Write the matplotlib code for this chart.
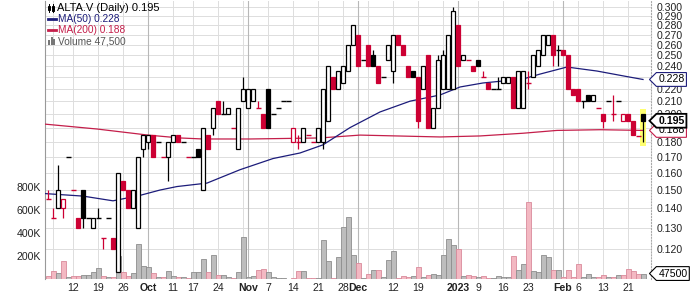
import numpy as np
import matplotlib
matplotlib.use('Agg')
import matplotlib.pyplot as plt
from matplotlib.path import Path
from matplotlib.patches import Rectangle
from matplotlib.lines import Line2D
from matplotlib.transforms import blended_transform_factory

plt.rcParams['font.family'] = ['Liberation Sans', 'DejaVu Sans']

# bar index 0 = Mon 12 Sep 2022, trading days only
first_bar = -5
prev_close = 0.15

opens = [0.145, 0.135, 0.14, 0.14, 0.17,
         0.15, 0.135, 0.15, 0.135, 0.13, 0.135, 0.125, 0.135, 0.125, 0.11,
         0.155, 0.15, 0.14, 0.13, 0.175, 0.18, 0.185, 0.18, 0.17, 0.17,
         0.18, 0.185, 0.18, 0.17, 0.17, 0.175, 0.15, 0.185, 0.19, 0.21,
         0.2, 0.2, 0.19, 0.175, 0.21, 0.205, 0.21, 0.205, 0.2, 0.22,
         0.2, 0.205, 0.21, 0.21, 0.18, 0.18, 0.18, 0.185, 0.18, 0.18,
         0.18, 0.195, 0.23, 0.22, 0.225, 0.235, 0.26, 0.27, 0.245, 0.26,
         0.25, 0.24, 0.23, 0.245, 0.235, 0.27, 0.26, 0.24, 0.235, 0.23,
         0.22, 0.25, 0.19, 0.205, 0.22, 0.22, 0.22, 0.28, 0.245, 0.245,
         0.24, 0.245, 0.23, 0.225, 0.22, 0.22, 0.225, 0.225, 0.23, 0.205,
         0.205, 0.225, 0.23, 0.24, 0.25, 0.26, 0.27, 0.255, 0.255, 0.25,
         0.22, 0.22, 0.21, 0.215, 0.21, 0.205, 0.2, 0.21, 0.2, 0.21,
         0.195, 0.2, 0.195, 0.184, 0.2]
highs = [0.15, 0.14, 0.165, 0.145, 0.17,
         0.15, 0.135, 0.15, 0.135, 0.135, 0.14, 0.125, 0.135, 0.125, 0.16,
         0.155, 0.15, 0.15, 0.17, 0.185, 0.185, 0.185, 0.18, 0.17, 0.18,
         0.185, 0.185, 0.18, 0.17, 0.17, 0.175, 0.19, 0.185, 0.205, 0.21,
         0.21, 0.205, 0.19, 0.205, 0.23, 0.22, 0.22, 0.21, 0.2, 0.22,
         0.2, 0.205, 0.21, 0.21, 0.19, 0.185, 0.19, 0.185, 0.18, 0.19,
         0.22, 0.24, 0.23, 0.235, 0.24, 0.26, 0.28, 0.27, 0.245, 0.26,
         0.255, 0.24, 0.23, 0.26, 0.27, 0.27, 0.26, 0.24, 0.235, 0.23,
         0.24, 0.25, 0.205, 0.25, 0.255, 0.27, 0.3, 0.28, 0.25, 0.245,
         0.24, 0.245, 0.235, 0.225, 0.22, 0.23, 0.23, 0.23, 0.23, 0.235,
         0.235, 0.235, 0.25, 0.255, 0.27, 0.27, 0.27, 0.26, 0.255, 0.25,
         0.22, 0.22, 0.21, 0.215, 0.215, 0.205, 0.2, 0.21, 0.215, 0.21,
         0.2, 0.2, 0.195, 0.184, 0.2]
lows = [0.145, 0.135, 0.14, 0.135, 0.17,
        0.15, 0.13, 0.13, 0.135, 0.13, 0.135, 0.12, 0.135, 0.12, 0.11,
        0.15, 0.14, 0.14, 0.13, 0.17, 0.175, 0.17, 0.18, 0.17, 0.155,
        0.18, 0.18, 0.18, 0.17, 0.17, 0.17, 0.15, 0.175, 0.185, 0.2,
        0.2, 0.2, 0.19, 0.175, 0.21, 0.205, 0.21, 0.205, 0.19, 0.19,
        0.2, 0.205, 0.21, 0.21, 0.18, 0.175, 0.18, 0.185, 0.18, 0.18,
        0.175, 0.195, 0.22, 0.22, 0.225, 0.235, 0.26, 0.24, 0.245, 0.24,
        0.24, 0.225, 0.23, 0.245, 0.225, 0.26, 0.25, 0.23, 0.23, 0.19,
        0.22, 0.19, 0.19, 0.205, 0.22, 0.22, 0.22, 0.24, 0.245, 0.245,
        0.235, 0.24, 0.23, 0.22, 0.22, 0.22, 0.225, 0.225, 0.205, 0.205,
        0.205, 0.22, 0.23, 0.24, 0.25, 0.26, 0.24, 0.24, 0.25, 0.22,
        0.215, 0.21, 0.205, 0.21, 0.21, 0.205, 0.19, 0.21, 0.195, 0.21,
        0.195, 0.195, 0.185, 0.184, 0.18]
closes = [0.145, 0.135, 0.15, 0.145, 0.17,
          0.15, 0.13, 0.135, 0.135, 0.135, 0.135, 0.125, 0.135, 0.12, 0.16,
          0.15, 0.14, 0.15, 0.17, 0.185, 0.185, 0.17, 0.18, 0.17, 0.18,
          0.185, 0.18, 0.18, 0.17, 0.17, 0.17, 0.19, 0.175, 0.205, 0.2,
          0.2, 0.205, 0.19, 0.205, 0.22, 0.22, 0.22, 0.205, 0.19, 0.19,
          0.2, 0.205, 0.21, 0.21, 0.19, 0.18, 0.19, 0.185, 0.18, 0.19,
          0.22, 0.24, 0.22, 0.235, 0.24, 0.26, 0.28, 0.24, 0.245, 0.24,
          0.24, 0.225, 0.23, 0.26, 0.27, 0.26, 0.25, 0.23, 0.23, 0.195,
          0.24, 0.19, 0.205, 0.245, 0.25, 0.27, 0.295, 0.24, 0.25, 0.245,
          0.235, 0.24, 0.23, 0.22, 0.22, 0.22, 0.23, 0.23, 0.205, 0.235,
          0.235, 0.225, 0.25, 0.255, 0.27, 0.27, 0.25, 0.255, 0.25, 0.22,
          0.215, 0.21, 0.21, 0.21, 0.215, 0.205, 0.195, 0.21, 0.2, 0.21,
          0.2, 0.195, 0.185, 0.184, 0.195]
volumes = [30, 70, 50, 157, 15,
           26, 26, 35, 35, 64, 93, 26, 15, 15, 200,
           64, 26, 50, 304, 113, 101, 50, 15, 15, 70,
           26, 15, 15, 6, 64, 64, 174, 64, 209, 35,
           35, 15, 6, 64, 362, 15, 26, 78, 87, 64,
           15, 6, 6, 2, 6, 70, 70, 6, 6, 6,
           339, 157, 6, 188, 449, 536, 209, 142, 6, 43,
           78, 78, 15, 165, 243, 6, 26, 15, 26, 101,
           15, 35, 43, 35, 209, 345, 296, 258, 26, 35,
           26, 15, 26, 6, 6, 26, 15, 15, 200, 78,
           130, 672, 70, 58, 209, 188, 78, 78, 15, 78,
           15, 130, 15, 43, 15, 15, 35, 15, 15, 35,
           35, 87, 70, 43, 47.5]

# moving averages read at a few bar positions
ma50_pos = [-5.6, 2, 8, 13.4, 17.4, 20.8, 26.8, 33.4, 40, 45.4, 50, 55.4,
            61.4, 67.4, 73.4, 77.4, 82, 90, 93.4, 98.8, 104.8, 110.8, 114]
ma50_val = [0.148, 0.1466, 0.144, 0.147, 0.150, 0.152, 0.154, 0.162, 0.169,
            0.1726, 0.178, 0.190, 0.2016, 0.210, 0.215, 0.2216, 0.225, 0.2284,
            0.2327, 0.239, 0.2354, 0.2305, 0.228]
ma200_pos = [-5.8, 4.8, 15, 21.4, 26, 35.4, 49.4, 57.4, 73.4, 81.4, 90, 96.8,
             105.4, 114]
ma200_val = [0.1926, 0.189, 0.1847, 0.1827, 0.182, 0.182, 0.1827, 0.1847,
             0.1834, 0.1841, 0.186, 0.188, 0.1885, 0.188]

tick_pos = [0, 5, 10, 15, 20, 24, 29, 35, 39, 44, 49, 54, 57, 64, 69, 77,
            81, 86, 91, 98, 101, 106, 111]
tick_labels = ['12', '19', '26', 'Oct', '11', '17', '24', 'Nov', '7', '14',
               '21', '28', 'Dec', '12', '19', '2023', '9', '16', '23', 'Feb',
               '6', '13', '21']
month_names = ['Oct', 'Nov', 'Dec', '2023', 'Feb']
week_lines = [-4, 0, 5, 10, 15, 20, 24, 29, 34, 39, 44, 49, 54, 59, 64, 69,
              74, 77, 81, 86, 91, 96, 101, 106, 111]
month_lines = [15, 35, 57, 77, 98]
price_ticks = [0.12, 0.13, 0.14, 0.15, 0.16, 0.17, 0.18, 0.19, 0.20, 0.21,
               0.22, 0.23, 0.24, 0.25, 0.26, 0.27, 0.28, 0.29, 0.30]
vol_ticks = [200, 400, 600, 800]

RED = '#cc0033'
NAVY = '#1c1c7a'
CRIMSON = '#c41e4a'

o = np.array(opens)
h = np.array(highs)
l = np.array(lows)
c = np.array(closes)
v = np.array(volumes) * 1000
x = np.arange(first_bar, first_bar + len(c))
prev = np.concatenate([[prev_close], c[:-1]])
up = c >= prev
col = np.where(up, 'black', RED)

W, H = 700, 293
fig = plt.figure(figsize=(W / 100, H / 100), dpi=100)
rect = [45 / W, 14 / H, 606 / W, 278 / H]
axv = fig.add_axes(rect)
ax = fig.add_axes(rect, sharex=axv)
ax.patch.set_alpha(0)

ax.set_yscale('log')
ax.set_ylim(0.1071, 0.3069)
ax.set_xlim(-5.6, 115.6)
axv.set_ylim(0, 278 / 23 * 200000)

# grid, drawn under the volume bars
ptrans = blended_transform_factory(axv.transAxes, ax.transData)
for p in price_ticks:
    axv.plot([0, 1], [p, p], transform=ptrans, color='#dddddd', lw=0.7, zorder=0)
for wk in week_lines:
    axv.axvline(wk, color='#dddddd', lw=0.7, zorder=0)
for m in month_lines:
    axv.axvline(m, color='#b8b8b8', lw=0.8, zorder=0)

# volume
axv.bar(x, v, width=1.0, color=np.where(up, '#bdbdbd', '#f3b8c2'),
        edgecolor=np.where(up, '#8e8e8e', '#d98a9b'), linewidth=0.6, zorder=2)

# last bar highlight
ax.add_patch(Rectangle((x[-1] - 0.55, l[-1] * 0.985), 1.1, h[-1] * 1.02 - l[-1] * 0.985,
                       facecolor='#ffff70', edgecolor='none', zorder=1))

# moving averages
ax.plot(ma200_pos, ma200_val, color=CRIMSON, lw=0.9, zorder=2)
ax.plot(ma50_pos, ma50_val, color=NAVY, lw=0.9, zorder=2)

# candles
ax.vlines(x, l, h, colors=col, lw=0.9, zorder=3)
doji = c == o
ax.hlines(c[doji], x[doji] - 0.5, x[doji] + 0.5, colors=col[doji], lw=1.0, zorder=4)
body = ~doji
face = np.where(c > o, 'white', col)
ax.bar(x[body], np.abs(c - o)[body], bottom=np.minimum(o, c)[body], width=0.75,
       color=face[body], edgecolor=col[body], linewidth=0.9, zorder=4)

# axes styling
for a in (ax, axv):
    for s in a.spines.values():
        s.set_visible(False)
axv.spines['left'].set_visible(True)
axv.spines['left'].set_color('#999999')
axv.spines['right'].set_visible(True)
axv.spines['right'].set_color('#aaaaaa')
axv.spines['right'].set_linestyle(':')

# labels hidden under the value tags on the right are left blank
covered = [0.19, 0.23]
ax.yaxis.tick_right()
ax.yaxis.set_minor_locator(matplotlib.ticker.NullLocator())
ax.set_yticks(price_ticks)
ax.set_yticklabels(['' if round(p, 3) in covered else '%.3f' % p for p in price_ticks])
ax.tick_params(axis='y', length=0, pad=4, labelsize=7.6, labelcolor='#222222')

axv.set_yticks([t * 1000 for t in vol_ticks])
axv.set_yticklabels(['%dK' % t for t in vol_ticks])
axv.tick_params(axis='y', length=0, pad=3, labelsize=7.6, labelcolor='#222222')
axv.tick_params(axis='x', labelbottom=False, length=0)

ax.set_xticks(tick_pos)
ax.set_xticklabels(tick_labels)
ax.tick_params(axis='x', length=0, pad=3, labelsize=7.6, labelcolor='#222222')
for t in ax.get_xticklabels():
    if t.get_text() in month_names:
        t.set_fontweight('bold')


def tag_box(x0, y0, width, height, mutation_size):
    pad = 0.18 * mutation_size
    x0, y0 = x0 - pad, y0 - pad
    x1, y1 = x0 + width + 2 * pad, y0 + height + 2 * pad
    tip = (y1 - y0) / 2
    return Path([(x0, y0), (x1, y0), (x1, y1), (x0, y1),
                 (x0 - tip, (y0 + y1) / 2), (x0, y0)], closed=True)


def tag(axis, y, label, ec, bold=False, lw=0.8):
    tr = blended_transform_factory(axis.transAxes, axis.transData)
    axis.text(1.012, y, label, transform=tr, va='center', ha='left',
              fontsize=7.6, fontweight='bold' if bold else 'normal',
              color='black', zorder=20, clip_on=False,
              bbox=dict(boxstyle=tag_box, fc='white', ec=ec, lw=lw))


tag(ax, ma50_val[-1], '%.3f' % ma50_val[-1], NAVY)
tag(ax, ma200_val[-1], '%.3f' % ma200_val[-1], CRIMSON)
tag(ax, c[-1], '%.3f' % c[-1], 'black', bold=True, lw=1.3)
tag(axv, v[-1], '%d' % v[-1], 'black')

# legend block, top left


def fx(px):
    return px / W


def fy(py):
    return 1 - py / H


fig.text(fx(57), fy(8), 'ALTA.V (Daily) %.3f' % c[-1], fontsize=8, va='center', color='black')
fig.text(fx(58), fy(19), 'MA(50) %.3f' % ma50_val[-1], fontsize=7.3, va='center', color=NAVY)
fig.text(fx(58), fy(30), 'MA(200) %.3f' % ma200_val[-1], fontsize=7.3, va='center', color=CRIMSON)
fig.text(fx(58), fy(41), 'Volume %s' % format(int(v[-1]), ','), fontsize=7.3, va='center', color='#555555')

# legend icons
fig.add_artist(Line2D([fx(49), fx(49)], [fy(4), fy(12)], color='black', lw=0.7))
fig.add_artist(Rectangle((fx(48), fy(10)), 2 / W, 4 / H, fc='white', ec='black', lw=0.7))
fig.add_artist(Line2D([fx(53), fx(53)], [fy(4), fy(12)], color='black', lw=0.7))
fig.add_artist(Rectangle((fx(52), fy(11)), 2 / W, 5 / H, fc='black', ec='black', lw=0.7))
fig.add_artist(Line2D([fx(48), fx(56)], [fy(19), fy(19)], color=NAVY, lw=2))
fig.add_artist(Line2D([fx(48), fx(56)], [fy(30), fy(30)], color=CRIMSON, lw=2))
for bx, bh in zip([48, 50.5, 53], [5, 8, 6]):
    fig.add_artist(Rectangle((fx(bx), fy(45)), 2 / W, bh / H, fc='#777777', ec='none'))

fig.savefig('out.png', dpi=100)
